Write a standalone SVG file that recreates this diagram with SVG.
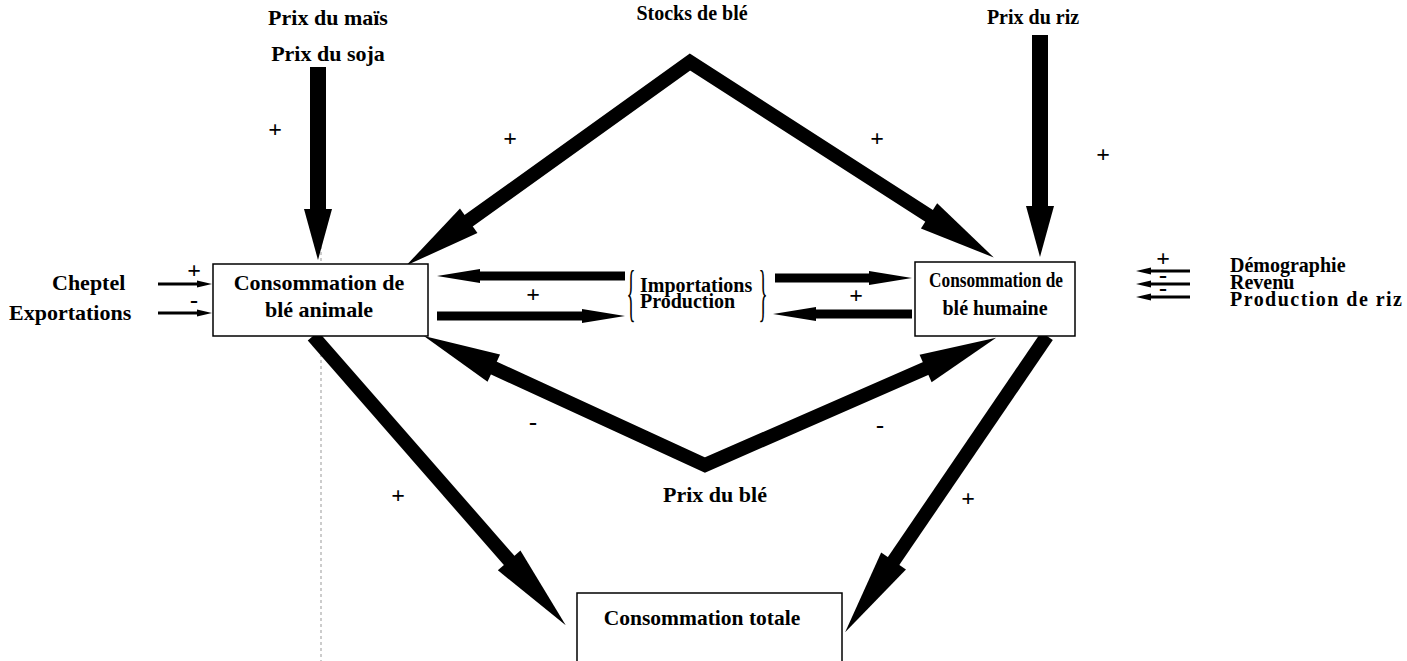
<svg xmlns="http://www.w3.org/2000/svg" width="1407" height="661" viewBox="0 0 1407 661">
<style>
text{font-family:"Liberation Serif","Times New Roman",serif;font-weight:bold;font-size:22px;fill:#000}
.m{text-anchor:middle}
.s20{font-size:20px}
.sg{font-size:24px;text-anchor:middle}
.box{fill:#fff;stroke:#000;stroke-width:1.5}
.big{fill:none;stroke:#000;stroke-width:14;stroke-linejoin:miter;stroke-miterlimit:10}
.vert{fill:none;stroke:#000;stroke-width:16}
.hor{fill:none;stroke:#000;stroke-width:9}
.small{fill:none;stroke:#000;stroke-width:3}
.brace{font-weight:normal;font-size:63px;text-anchor:middle}
</style>
<defs>
<marker id="mV" markerUnits="userSpaceOnUse" markerWidth="1" markerHeight="1" refX="0" refY="0" orient="auto" overflow="visible"><path d="M-1,-14 L50,0 L-1,14 z" fill="#000"/></marker>
<marker id="mD" markerUnits="userSpaceOnUse" markerWidth="1" markerHeight="1" refX="0" refY="0" orient="auto" overflow="visible"><path d="M-1,-15 L76,0 L-1,15 z" fill="#000"/></marker>
<marker id="mDs" markerUnits="userSpaceOnUse" markerWidth="1" markerHeight="1" refX="0" refY="0" orient="auto-start-reverse" overflow="visible"><path d="M-1,-15 L76,0 L-1,15 z" fill="#000"/></marker>
<marker id="mB" markerUnits="userSpaceOnUse" markerWidth="1" markerHeight="1" refX="0" refY="0" orient="auto" overflow="visible"><path d="M-1,-15 L85,0 L-1,15 z" fill="#000"/></marker>
<marker id="mH" markerUnits="userSpaceOnUse" markerWidth="1" markerHeight="1" refX="0" refY="0" orient="auto" overflow="visible"><path d="M-1,-7 L42,0 L-1,7 z" fill="#000"/></marker>
<marker id="mS" markerUnits="userSpaceOnUse" markerWidth="1" markerHeight="1" refX="0" refY="0" orient="auto" overflow="visible"><path d="M-1,-3.5 L14,0 L-1,3.5 z" fill="#000"/></marker>
</defs>
<rect width="1407" height="661" fill="#fff"/>
<line x1="321" y1="240" x2="321" y2="661" stroke="#999" stroke-width="1" stroke-dasharray="3 3"/>

<g id="connectors">
<line class="vert" x1="318" y1="67" x2="318" y2="210" marker-end="url(#mV)"/>
<line class="vert" x1="1040" y1="35" x2="1040" y2="207" marker-end="url(#mV)"/>
<path class="big" d="M467.9,221.3 L690,62 L929.9,216.4" marker-start="url(#mDs)" marker-end="url(#mD)"/>
<path class="big" d="M492.9,367.6 L705,465 L926.5,368.2" marker-start="url(#mDs)" marker-end="url(#mD)"/>
<line class="big" x1="313" y1="336" x2="509.8" y2="561.2" marker-end="url(#mB)"/>
<line class="big" x1="1047" y1="336" x2="893" y2="561.9" marker-end="url(#mB)"/>
<line class="hor" x1="625" y1="276" x2="479" y2="276" marker-end="url(#mH)"/>
<line class="hor" x1="437" y1="316" x2="583" y2="316" marker-end="url(#mH)"/>
<line class="hor" x1="775" y1="278" x2="870" y2="278" marker-end="url(#mH)"/>
<line class="hor" x1="912" y1="314" x2="815" y2="314" marker-end="url(#mH)"/>
<line class="small" x1="158" y1="284" x2="198" y2="284" marker-end="url(#mS)"/>
<line class="small" x1="158" y1="313" x2="198" y2="313" marker-end="url(#mS)"/>
<line class="small" x1="1190" y1="271" x2="1150" y2="271" marker-end="url(#mS)"/>
<line class="small" x1="1190" y1="284" x2="1150" y2="284" marker-end="url(#mS)"/>
<line class="small" x1="1190" y1="297" x2="1150" y2="297" marker-end="url(#mS)"/>
<g id="signs">
<text class="sg" x="275" y="137">+</text>
<text class="sg" x="510" y="146">+</text>
<text class="sg" x="877" y="146">+</text>
<text class="sg" x="1103" y="162">+</text>
<text class="sg" x="533" y="302">+</text>
<text class="sg" x="856" y="303">+</text>
<text class="sg" x="533" y="430">-</text>
<text class="sg" x="880" y="433">-</text>
<text class="sg" x="398" y="503">+</text>
<text class="sg" x="968" y="506">+</text>
<text class="sg" x="194" y="278">+</text>
<text class="sg" x="194" y="308">-</text>
<text class="sg" x="1163" y="266">+</text>
<text class="sg" x="1163" y="283">-</text>
<text class="sg" x="1163" y="296">-</text>
</g>
</g>

<g id="n-mais"><text class="m" x="328" y="25">Prix du maïs</text><text class="m" x="328" y="61">Prix du soja</text></g>
<g id="n-stocks"><text class="m s20" x="692" y="20">Stocks de blé</text></g>
<g id="n-riz"><text class="m s20" x="1033" y="24">Prix du riz</text></g>
<g id="n-cheptel"><text x="52" y="290">Cheptel</text></g>
<g id="n-export"><text x="9" y="320">Exportations</text></g>
<g id="n-animale"><rect class="box" x="213" y="264" width="215" height="72"/><text class="m" x="319" y="290">Consommation de</text><text class="m" x="319" y="317">blé animale</text></g>
<g id="n-humaine"><rect class="box" x="915" y="262" width="160" height="74"/><text class="m s20" x="996" y="287" textLength="134" lengthAdjust="spacingAndGlyphs">Consommation de</text><text class="m s20" x="995" y="315">blé humaine</text></g>
<g id="n-import"><text class="brace" transform="translate(631,314) scale(0.3,1)" x="0" y="0">{</text><text class="s20" x="640" y="292">Importations</text><text class="s20" x="640" y="308">Production</text><text class="brace" transform="translate(763,314) scale(0.3,1)" x="0" y="0">}</text></g>
<g id="n-demo"><text class="s20" x="1230" y="272">Démographie</text><text class="s20" x="1230" y="289">Revenu</text><text class="s20" x="1230" y="306" textLength="172" lengthAdjust="spacing">Production de riz</text></g>
<g id="n-prixble"><text class="m" x="715" y="502">Prix du blé</text></g>
<g id="n-total"><rect class="box" x="577" y="593" width="265" height="90"/><text class="m" x="702" y="625" style="font-size:21.5px">Consommation totale</text></g>
</svg>
